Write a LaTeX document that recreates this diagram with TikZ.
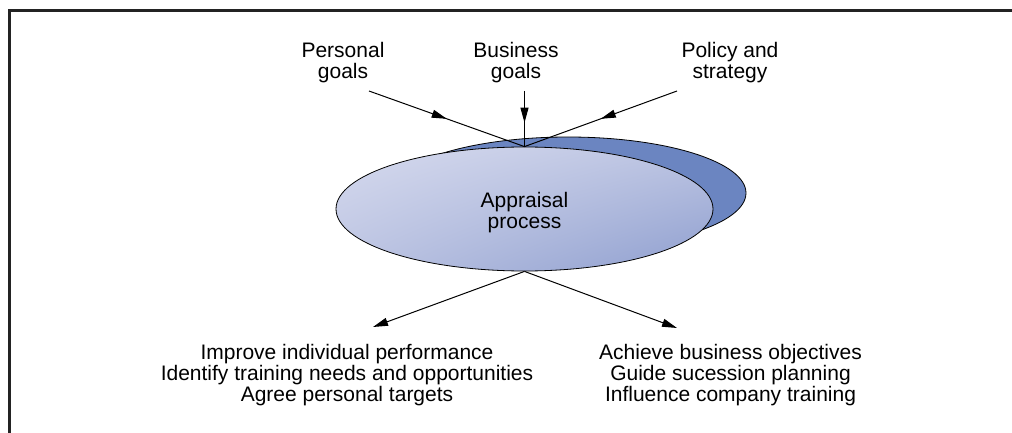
\documentclass[tikz,border=0pt]{standalone}
\usepackage{fontspec}
\setmainfont{Liberation Sans}
\usetikzlibrary{arrows.meta,shapes.geometric,shadings,decorations.markings}
\definecolor{apprBack}  {HTML}{6B85C1}
\definecolor{apprLight} {HTML}{D6DAEE}
\definecolor{apprMid}   {HTML}{BCC4E2}
\definecolor{apprDark}  {HTML}{8E9ECF}
\definecolor{frameGrey} {HTML}{232323}

\begin{document}
\begin{tikzpicture}[x=1pt, y=-1pt,
        every node/.style={font=\fontsize{21}{21}\selectfont, align=center, inner sep=0pt},
        disc/.style={ellipse, draw=black, line width=0.8pt},
        ar/.style={line width=1pt, -{Triangle[length=15pt, width=8pt]}},
        midar/.style={line width=1pt, postaction={decorate},
            decoration={markings, mark=at position #1 with {\arrow{Triangle[length=15pt, width=8pt]}}}}
    ]
        \useasboundingbox (0,0) rectangle (1012,433);
        \draw[frameGrey, line width=3pt] (9.5,433) -- (9.5,10.5) -- (1012,10.5);

        \node[disc, fill=apprBack, minimum width=356pt, minimum height=112pt] (back) at (568,193) {};
        \node[disc, upper left=apprLight, upper right=apprMid, lower left=apprMid, lower right=apprDark,
              minimum width=377pt, minimum height=124pt] (appr) at (524.5,209) {};
        \node (apprLbl) at (524.5,212.5) {Appraisal\\process};

        \node (pers) at (343,63) {Personal\\goals};
        \node (bus) at (516,63) {Business\\goals};
        \node (pol) at (730,63) {Policy and\\strategy};
        \coordinate (persIn) at (369,91);
        \coordinate (busIn) at (524.5,91);
        \coordinate (polIn) at (677,91);
        \draw[midar=0.5] (persIn) -- (appr.north);
        \draw[midar=0.57] (busIn) -- (appr.north);
        \draw[midar=0.5] (polIn) -- (appr.north);

        \node (imp) at (347,375) {Improve individual performance\\Identify training needs and opportunities\\Agree personal targets};
        \node (ach) at (730.5,375) {Achieve business objectives\\Guide sucession planning\\Influence company training};
        \coordinate (impOut) at (373,327);
        \coordinate (achOut) at (677,328);
        \draw[ar] (appr.south) -- (impOut);
        \draw[ar] (appr.south) -- (achOut);
    \end{tikzpicture}
\end{document}
